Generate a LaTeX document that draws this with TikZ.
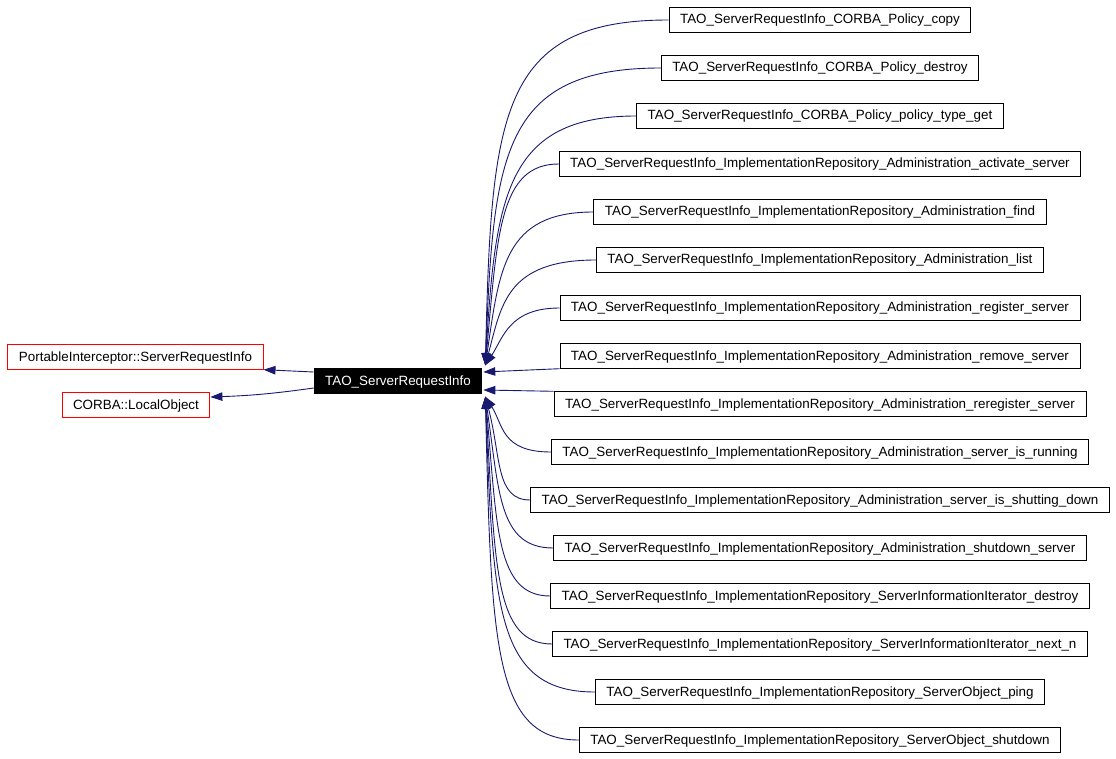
\documentclass[tikz,border=0pt]{standalone}
\usepackage{fontspec}
\setmainfont{Liberation Sans}
\usepackage{xcolor}
\usetikzlibrary{arrows.meta}
\definecolor{edgeblue}{HTML}{191970}

\begin{document}
\begin{tikzpicture}[x=1pt, y=-1pt]
\tikzstyle{every node}=[font=\fontsize{13.4}{15}\selectfont]
\tikzstyle{classbox}=[draw=black, line width=0.9pt, fill=white, inner xsep=11pt, inner ysep=0pt, minimum height=24.5pt, text height=9.5pt, text depth=1.5pt]
\tikzstyle{basebox}=[classbox, draw=red]
\tikzstyle{mainbox}=[classbox, fill=black, text=white]
\tikzstyle{derive}=[draw=edgeblue, line width=0.9pt, -{Triangle[length=12pt, width=8.5pt]}]

\useasboundingbox (0, 0) rectangle (1116, 759);

\node[mainbox] (tao) at (398, 381) {TAO\_ServerRequestInfo};

% base classes
\node[basebox] (pinfo) at (135.5, 357) {PortableInterceptor::ServerRequestInfo};
\node[basebox] (lobj) at (136, 405) {CORBA::LocalObject};

\draw[derive] ([yshift=9pt]tao.west) -- (pinfo.south east);
\draw[derive] ([yshift=-7pt]tao.west) to[bend left=3] ([yshift=8pt]lobj.east);

% derived classes
\node[classbox] (copy) at (820, 20) {TAO\_ServerRequestInfo\_CORBA\_Policy\_copy};
\node[classbox] (pdestroy) at (820, 68) {TAO\_ServerRequestInfo\_CORBA\_Policy\_destroy};
\node[classbox] (ptype) at (820, 116) {TAO\_ServerRequestInfo\_CORBA\_Policy\_policy\_type\_get};
\node[classbox] (activate) at (820, 164) {TAO\_ServerRequestInfo\_ImplementationRepository\_Administration\_activate\_server};
\node[classbox] (find) at (820, 212) {TAO\_ServerRequestInfo\_ImplementationRepository\_Administration\_find};
\node[classbox] (list) at (820, 260) {TAO\_ServerRequestInfo\_ImplementationRepository\_Administration\_list};
\node[classbox] (register) at (820, 308) {TAO\_ServerRequestInfo\_ImplementationRepository\_Administration\_register\_server};
\node[classbox] (remove) at (820, 356) {TAO\_ServerRequestInfo\_ImplementationRepository\_Administration\_remove\_server};
\node[classbox] (reregister) at (820, 404) {TAO\_ServerRequestInfo\_ImplementationRepository\_Administration\_reregister\_server};
\node[classbox] (running) at (820, 452) {TAO\_ServerRequestInfo\_ImplementationRepository\_Administration\_server\_is\_running};
\node[classbox] (shutting) at (820, 500) {TAO\_ServerRequestInfo\_ImplementationRepository\_Administration\_server\_is\_shutting\_down};
\node[classbox] (shutdown) at (820, 548) {TAO\_ServerRequestInfo\_ImplementationRepository\_Administration\_shutdown\_server};
\node[classbox] (sidestroy) at (820, 596) {TAO\_ServerRequestInfo\_ImplementationRepository\_ServerInformationIterator\_destroy};
\node[classbox] (nextn) at (820, 644) {TAO\_ServerRequestInfo\_ImplementationRepository\_ServerInformationIterator\_next\_n};
\node[classbox] (ping) at (820, 692) {TAO\_ServerRequestInfo\_ImplementationRepository\_ServerObject\_ping};
\node[classbox] (soshutdown) at (820, 740) {TAO\_ServerRequestInfo\_ImplementationRepository\_ServerObject\_shutdown};

% arrow ends on TAO_ServerRequestInfo
\coordinate (inA) at ([xshift=3pt, yshift=3pt]tao.north east);
\coordinate (inB) at ([xshift=1pt, yshift=9pt]tao.east);
\coordinate (inC) at ([xshift=1pt, yshift=-9pt]tao.east);
\coordinate (inD) at ([xshift=3pt, yshift=-3pt]tao.south east);

\draw[derive] (copy.west) .. controls +(-170, 0) and +(6, -250) .. (inA);
\draw[derive] (pdestroy.west) .. controls +(-160, 0) and +(8, -210) .. (inA);
\draw[derive] (ptype.west) .. controls +(-130, 0) and +(10, -170) .. (inA);
\draw[derive] (activate.west) .. controls +(-60, 0) and +(12, -130) .. (inA);
\draw[derive] (find.west) .. controls +(-90, 0) and +(14, -95) .. (inA);
\draw[derive] (list.west) .. controls +(-90, 0) and +(16, -60) .. (inA);
\draw[derive] (register.west) .. controls +(-50, 0) and +(18, -28) .. (inA);

\draw[derive] (remove.south west) -- (inB);
\draw[derive] (reregister.north west) -- (inC);

\draw[derive] (running.west) .. controls +(-50, 0) and +(18, 28) .. (inD);
\draw[derive] (shutting.west) .. controls +(-35, 0) and +(16, 60) .. (inD);
\draw[derive] (shutdown.west) .. controls +(-55, 0) and +(14, 95) .. (inD);
\draw[derive] (sidestroy.west) .. controls +(-55, 0) and +(12, 130) .. (inD);
\draw[derive] (nextn.west) .. controls +(-58, 0) and +(10, 170) .. (inD);
\draw[derive] (ping.west) .. controls +(-100, 0) and +(8, 210) .. (inD);
\draw[derive] (soshutdown.west) .. controls +(-85, 0) and +(6, 250) .. (inD);

\end{tikzpicture}
\end{document}
